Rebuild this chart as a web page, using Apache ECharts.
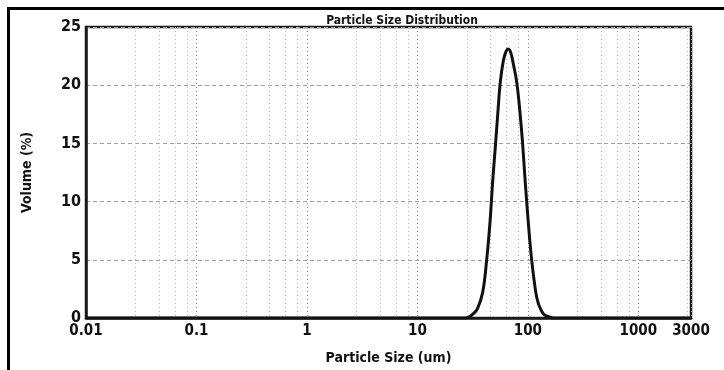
<!DOCTYPE html>
<html>
<head>
<meta charset="utf-8">
<title>Particle Size Distribution</title>
<script src="https://cdn.jsdelivr.net/npm/echarts@6/dist/echarts.min.js"></script>
<style>
  html, body { margin: 0; padding: 0; background: #fff; }
  #chart { width: 724px; height: 370px; }
</style>
</head>
<body>
<div id="chart"></div>
<script>
// particle size (um) and volume (%)
const sizes = [0.01, 20, 27, 29.5, 32, 35, 39, 42.5, 45.5, 48, 50.6, 53.5, 56.2, 60, 63.5, 66.5,
  70, 74, 79.5, 85, 89.5, 94.7, 101, 108, 118, 124, 130, 140, 156, 170, 3000];
const volumes = [0, 0, 0, 0.1, 0.35, 0.8, 2.2, 5.1, 8.3, 11.7, 14.5, 17.6, 20.2, 22.1, 22.9, 23.1,
  22.8, 21.8, 20.2, 17.6, 15.1, 11.7, 8.2, 5.1, 2.2, 1.3, 0.8, 0.3, 0.1, 0, 0];

// condensed bold face, like the scanned print
const narrow = '"DejaVu Sans Condensed", "Liberation Sans Narrow", "Arial Narrow", sans-serif';

const chart = echarts.init(document.getElementById('chart'));

const option = {
  animation: false,
  backgroundColor: '#fff',
  title: {
    text: 'Particle Size Distribution',
    left: 397,
    textAlign: 'center',
    top: 10,
    textStyle: { fontFamily: narrow, fontSize: 12, fontWeight: 'bold', color: '#111' }
  },
  grid: {
    left: 86, right: 33, top: 27, bottom: 47,
    show: true, borderColor: '#1a1a1a', borderWidth: 2.5
  },
  xAxis: {
    type: 'log',
    logBase: 10,
    min: 0.01,
    max: 3000,
    name: 'Particle Size (um)',
    nameLocation: 'middle',
    nameGap: 33,
    nameTextStyle: { fontFamily: narrow, fontSize: 14, fontWeight: 'bold', color: '#111' },
    axisLine: { show: true, lineStyle: { color: '#1a1a1a', width: 2.5 } },
    axisTick: { show: false },
    axisLabel: {
      margin: 6,
      fontFamily: narrow, fontSize: 15, fontWeight: 'bold', color: '#111',
      showMinLabel: true, showMaxLabel: true,
      formatter: function (v) { return String(+Number(v).toPrecision(4)); }
    },
    splitLine: { show: true, lineStyle: { color: '#8a8a8a', type: [1, 3], width: 1 } },
    minorTick: { show: false, splitNumber: 5 },
    minorSplitLine: { show: true, lineStyle: { color: '#b8b8b8', type: [1, 3], width: 1 } }
  },
  yAxis: {
    type: 'value',
    min: 0,
    max: 25,
    interval: 5,
    name: 'Volume (%)',
    nameLocation: 'middle',
    nameGap: 52,
    nameTextStyle: { fontFamily: narrow, fontSize: 14, fontWeight: 'bold', color: '#111' },
    axisLine: { show: true, lineStyle: { color: '#1a1a1a', width: 2.5 } },
    axisTick: { show: false },
    axisLabel: { margin: 5, fontFamily: narrow, fontSize: 16, fontWeight: 'bold', color: '#111' },
    splitLine: { show: true, lineStyle: { color: '#a0a0a0', type: [4, 3], width: 1 } }
  },
  graphic: [
    { type: 'line', shape: { x1: 8.5, y1: 7, x2: 8.5, y2: 370 }, style: { stroke: '#000', lineWidth: 3 } },
    { type: 'line', shape: { x1: 7, y1: 8.5, x2: 724, y2: 8.5 }, style: { stroke: '#000', lineWidth: 3 } }
  ],
  series: [{
    type: 'line',
    data: sizes.map(function (s, i) { return [s, volumes[i]]; }),
    smooth: 0.4,
    showSymbol: false,
    lineStyle: { color: '#111', width: 3 },
    z: 5
  }]
};

chart.setOption(option);
</script>
</body>
</html>
